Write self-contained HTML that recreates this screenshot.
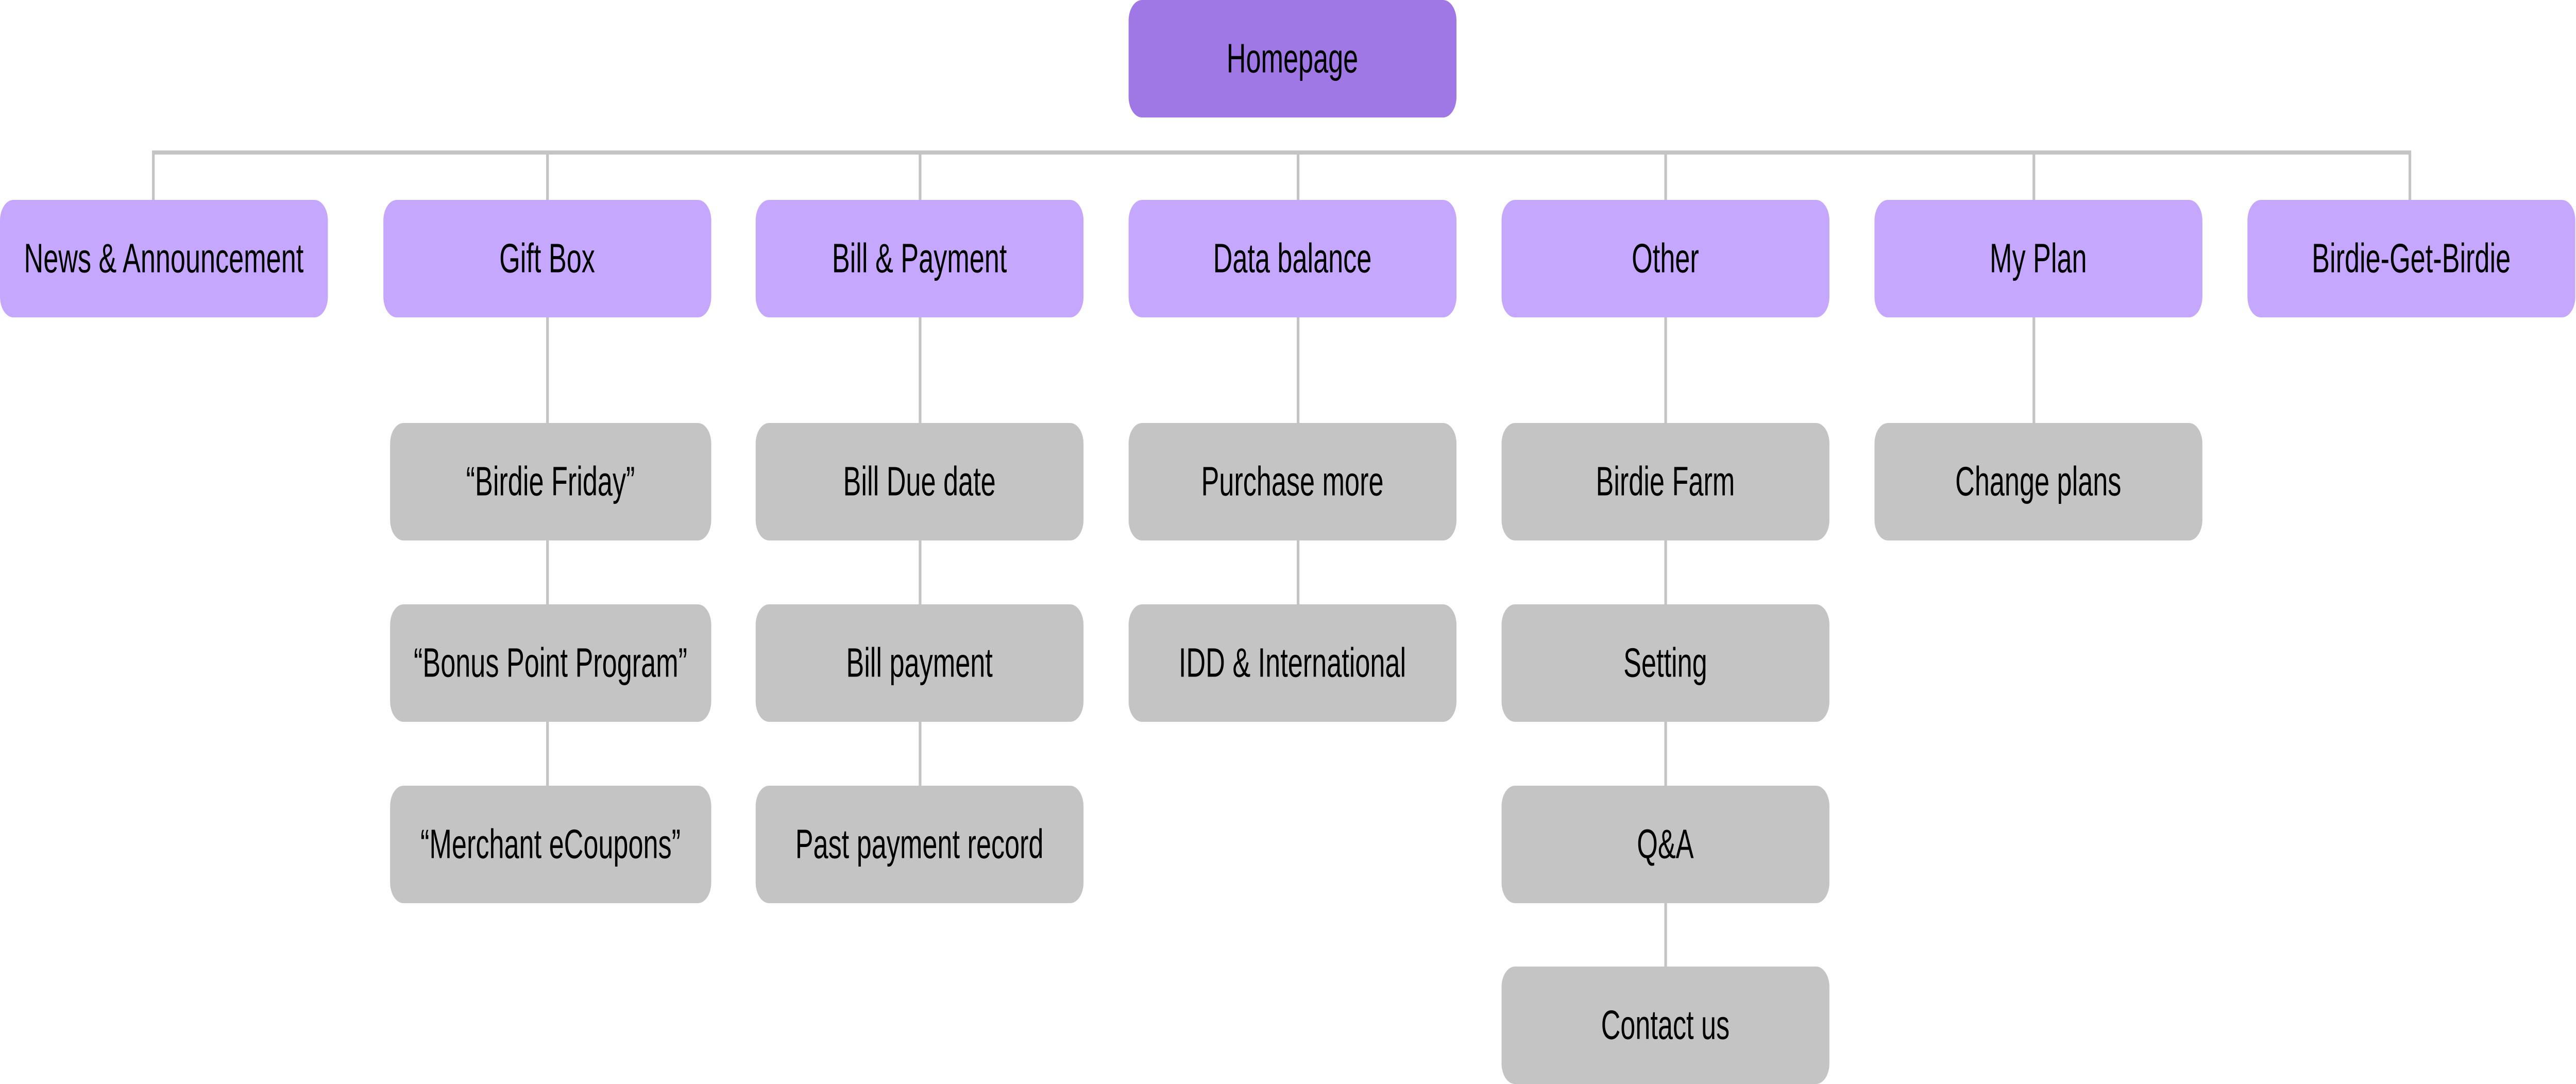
<!DOCTYPE html>
<html><head><meta charset="utf-8"><style>
html,body{margin:0;padding:0;background:#fff;width:100%;height:100%;overflow:hidden;}
svg{display:block;width:100vw;height:100vh;}
text{font-family:"Liberation Sans",sans-serif;font-size:80px;fill:#000;text-anchor:middle;dominant-baseline:central;}
.h{fill:#9f78e6}.p{fill:#c5a8fd}.g{fill:#c4c4c4}.l{fill:#c4c4c4}
</style></head><body>
<svg viewBox="0 0 7660 2104" preserveAspectRatio="none" xmlns="http://www.w3.org/2000/svg">
<rect class="l" x="452" y="292" width="6718" height="8"/>
<rect class="l" x="452" y="300" width="8" height="88"/>
<rect class="l" x="1624" y="300" width="8" height="1230"/>
<rect class="l" x="2732" y="300" width="8" height="1230"/>
<rect class="l" x="3856" y="300" width="8" height="880"/>
<rect class="l" x="4949" y="300" width="8" height="1580"/>
<rect class="l" x="6044" y="300" width="8" height="530"/>
<rect class="l" x="7162" y="300" width="8" height="88"/>

<rect class="h" x="3356" y="0" width="975" height="228" rx="40"/>
<text x="3843" y="114">Homepage</text>

<rect class="p" x="0" y="388" width="975" height="228" rx="40"/><text x="487" y="502">News &amp; Announcement</text>
<rect class="p" x="1140" y="388" width="975" height="228" rx="40"/><text x="1627" y="502">Gift Box</text>
<rect class="p" x="2247" y="388" width="975" height="228" rx="40"/><text x="2734" y="502">Bill &amp; Payment</text>
<rect class="p" x="3356" y="388" width="975" height="228" rx="40"/><text x="3843" y="502">Data balance</text>
<rect class="p" x="4465" y="388" width="975" height="228" rx="40"/><text x="4952" y="502">Other</text>
<rect class="p" x="5574" y="388" width="975" height="228" rx="40"/><text x="6061" y="502">My Plan</text>
<rect class="p" x="6683" y="388" width="975" height="228" rx="40"/><text x="7170" y="502">Birdie-Get-Birdie</text>

<rect class="g" x="1160" y="821" width="955" height="228" rx="40"/><text x="1637" y="935">“Birdie Friday”</text>
<rect class="g" x="1160" y="1173" width="955" height="228" rx="40"/><text x="1637" y="1287">“Bonus Point Program”</text>
<rect class="g" x="1160" y="1525" width="955" height="228" rx="40"/><text x="1637" y="1639">“Merchant eCoupons”</text>

<rect class="g" x="2247" y="821" width="975" height="228" rx="40"/><text x="2734" y="935">Bill Due date</text>
<rect class="g" x="2247" y="1173" width="975" height="228" rx="40"/><text x="2734" y="1287">Bill payment</text>
<rect class="g" x="2247" y="1525" width="975" height="228" rx="40"/><text x="2734" y="1639">Past payment record</text>

<rect class="g" x="3356" y="821" width="975" height="228" rx="40"/><text x="3843" y="935">Purchase more</text>
<rect class="g" x="3356" y="1173" width="975" height="228" rx="40"/><text x="3843" y="1287">IDD &amp; International</text>

<rect class="g" x="4465" y="821" width="975" height="228" rx="40"/><text x="4952" y="935">Birdie Farm</text>
<rect class="g" x="4465" y="1173" width="975" height="228" rx="40"/><text x="4952" y="1287">Setting</text>
<rect class="g" x="4465" y="1525" width="975" height="228" rx="40"/><text x="4952" y="1639">Q&amp;A</text>
<rect class="g" x="4465" y="1876" width="975" height="228" rx="40"/><text x="4952" y="1990">Contact us</text>

<rect class="g" x="5574" y="821" width="975" height="228" rx="40"/><text x="6061" y="935">Change plans</text>
</svg>
</body></html>
